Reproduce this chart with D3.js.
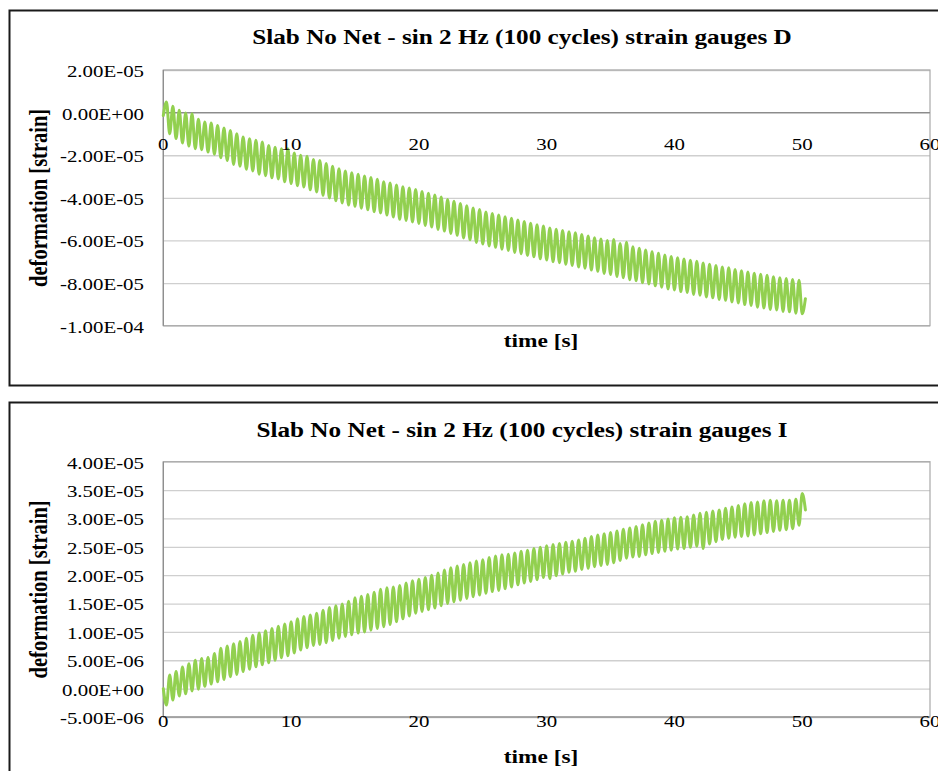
<!DOCTYPE html>
<html>
<head>
<meta charset="utf-8">
<script src="https://cdn.jsdelivr.net/npm/d3@7"></script>
<style>
  body { margin: 0; background: #fff; }
  svg { display: block; }
</style>
</head>
<body>
<svg id="chart" width="938" height="771"></svg>
<script>
// ---- data -------------------------------------------------------------
// Time axis (s)
const timeTicks = [0, 10, 20, 30, 40, 50, 60];

// Gauge D, strain in units of 1e-5. Excitation at 2 Hz: one peak and one trough per 0.5 s.
const startD = -0.14;           // value at t = 0 s
const endD = -8.73;             // value at t = 50.25 s
// peaks at t = 0.25, 0.75, ... 49.75 s
const peaksD = [
   0.50,  0.30,  0.11, -0.02, -0.05, -0.31, -0.44, -0.49, -0.60, -0.72,
  -0.84, -0.99, -1.14, -1.23, -1.30, -1.38, -1.54, -1.62, -1.69, -1.70,
  -1.90, -2.00, -2.05, -2.20, -2.25, -2.39, -2.52, -2.64, -2.74, -2.82,
  -2.89, -2.97, -3.05, -3.13, -3.25, -3.30, -3.40, -3.48, -3.54, -3.61,
  -3.70, -3.78, -3.87, -3.96, -4.08, -4.16, -4.27, -4.37, -4.48, -4.55,
  -4.66, -4.74, -4.81, -4.89, -4.96, -5.04, -5.11, -5.19, -5.26, -5.32,
  -5.41, -5.47, -5.53, -5.59, -5.64, -5.72, -5.79, -5.87, -5.93, -6.00,
  -5.96, -6.14, -6.08, -6.30, -6.36, -6.45, -6.53, -6.60, -6.68, -6.75,
  -6.81, -6.87, -6.93, -6.98, -7.06, -7.12, -7.18, -7.24, -7.28, -7.36,
  -7.42, -7.48, -7.54, -7.59, -7.63, -7.70, -7.75, -7.79, -7.83, -7.87
];
// troughs at t = 0.5, 1.0, ... 50.0 s
const troughsD = [
  -0.99, -1.22, -1.43, -1.57, -1.69, -1.74, -1.85, -1.95, -2.12, -2.25,
  -2.43, -2.52, -2.66, -2.74, -2.89, -2.96, -3.06, -3.11, -3.25, -3.33,
  -3.43, -3.49, -3.62, -3.72, -3.88, -4.01, -4.14, -4.24, -4.34, -4.40,
  -4.49, -4.56, -4.65, -4.71, -4.81, -4.90, -5.01, -5.06, -5.13, -5.20,
  -5.30, -5.37, -5.48, -5.56, -5.67, -5.76, -5.88, -5.97, -6.10, -6.17,
  -6.26, -6.32, -6.41, -6.47, -6.56, -6.62, -6.71, -6.77, -6.86, -6.92,
  -7.00, -7.04, -7.12, -7.17, -7.25, -7.30, -7.39, -7.45, -7.55, -7.60,
  -7.69, -7.75, -7.84, -7.89, -7.98, -8.04, -8.13, -8.19, -8.28, -8.32,
  -8.40, -8.44, -8.53, -8.57, -8.65, -8.69, -8.77, -8.81, -8.89, -8.93,
  -9.01, -9.05, -9.13, -9.17, -9.24, -9.26, -9.33, -9.35, -9.41, -9.44
];
const yTicksD = [2e-5, 0, -2e-5, -4e-5, -6e-5, -8e-5, -1e-4];

// Gauge I, strain in units of 1e-6 (opposite phase to gauge D).
const startI = 0.0;             // value at t = 0 s
const endI = 31.5;              // value at t = 50.25 s
// troughs at t = 0.25, 0.75, ... 49.75 s
const troughsI = [
  -2.9, -2.0, -1.3, -0.9, -0.4, -0.1,  0.4,  0.8,  1.2,  1.6,
   2.1,  2.5,  3.0,  3.4, 3.85,  4.2, 4.55,  5.0, 5.45,  5.8,
   6.3,  6.8,  7.2,  7.6,  7.8,  8.1,  8.5,  8.9,  9.2,  9.5,
   9.8, 10.0, 10.3, 10.6, 10.9, 11.3, 11.8, 12.3, 12.8, 13.3,
  13.6, 13.9, 14.2, 14.6, 15.0, 15.3, 15.6, 15.9, 16.2, 16.5,
  16.8, 17.1, 17.3, 17.6, 17.9, 18.3, 18.6, 18.9, 19.2, 19.6,
  19.4, 19.9, 20.2, 20.5, 20.7, 21.0, 21.2, 21.5, 21.7, 21.9,
  22.2, 22.6, 23.0, 23.2, 23.3, 23.6, 23.8, 24.0, 24.2, 24.4,
  24.6, 24.7, 24.9, 25.1, 24.7, 25.5, 25.9, 26.3, 26.5, 26.7,
  26.8, 26.9, 27.1, 27.3, 27.5, 27.7, 27.9, 28.0, 28.2, 28.8
];
// peaks at t = 0.5, 1.0, ... 50.0 s
const peaksI = [
   2.4,  3.0,  3.8,  4.4,  5.0,  5.3,  5.5,  6.2,  7.1,  7.5,
   7.9,  8.3,  8.9,  9.4,  9.8, 10.2, 10.6, 11.0, 11.4, 11.8,
  12.3, 12.7, 13.0, 13.3, 13.8, 14.3, 14.6, 14.9, 15.4, 16.0,
  16.3, 16.6, 17.0, 17.5, 17.8, 17.9, 18.2, 18.6, 19.0, 19.3,
  19.6, 20.0, 20.4, 20.9, 21.3, 21.6, 21.9, 22.2, 22.5, 22.7,
  23.1, 23.4, 23.6, 23.7, 23.9, 24.2, 24.4, 24.7, 24.9, 25.2,
  25.4, 25.6, 25.8, 26.0, 26.2, 26.5, 26.8, 27.1, 27.3, 27.5,
  27.8, 28.1, 28.3, 28.6, 28.9, 29.2, 29.5, 29.7, 29.9, 30.1,
  30.2, 30.3, 30.6, 30.9, 31.1, 31.3, 31.5, 31.8, 32.0, 32.3,
  32.6, 32.8, 32.9, 33.1, 33.2, 33.1, 33.2, 33.2, 33.4, 34.4
];
const yTicksI = [4e-5, 3.5e-5, 3e-5, 2.5e-5, 2e-5, 1.5e-5, 1e-5, 5e-6, 0, -5e-6];

// ---- series assembly ----------------------------------------------------
// Interleave the half-cycle extremes: first extreme at 0.25 s, second at 0.5 s, period 0.5 s.
function buildSeries(start, first, second, end, unit) {
  const pts = [[0, start * unit]];
  for (let k = 0; k < first.length; k++) {
    pts.push([0.25 + 0.5 * k, first[k] * unit]);
    pts.push([0.5 + 0.5 * k, second[k] * unit]);
  }
  pts.push([50.25, end * unit]);
  return pts;
}
const seriesD = buildSeries(startD, peaksD, troughsD, endD, 1e-5);
const seriesI = buildSeries(startI, troughsI, peaksI, endI, 1e-6);

// Excel-style scientific label: 2.00E-05
function sci(v) {
  const [m, e] = v.toExponential(2).split('e');
  const n = +e;
  return m.toUpperCase() + 'E' + (n < 0 ? '-' : '+') + String(Math.abs(n)).padStart(2, '0');
}

// ---- drawing ------------------------------------------------------------
const svg = d3.select('#chart');
const SERIF = '"Liberation Serif", "Times New Roman", serif';
const STRETCH = 1.2;    // glyphs are drawn slightly wide

function label(parent, x, y, str, opts) {
  const g = parent.append('g')
    .attr('transform', `translate(${x},${y}) scale(${STRETCH},1)` + (opts.rotate ? ` rotate(${opts.rotate})` : ''));
  g.append('text')
    .attr('text-anchor', opts.anchor || 'middle')
    .attr('dominant-baseline', 'central')
    .attr('font-family', SERIF)
    .attr('font-size', opts.size)
    .attr('font-weight', opts.bold ? 'bold' : 'normal')
    .attr('fill', '#000')
    .text(str);
}

const panels = [
  {
    title: 'Slab No Net - sin 2 Hz (100 cycles) strain gauges D',
    series: seriesD, ticks: yTicksD, domain: [-1e-4, 2e-5],
    frameTop: 10, frameBottom: 385,
    top: 70, bottom: 325.7,
    axisAtZero: true, tickLabelY: 144,
    titleY: 37, xTitleY: 341
  },
  {
    title: 'Slab No Net - sin 2 Hz (100 cycles) strain gauges I',
    series: seriesI, ticks: yTicksI, domain: [-5e-6, 4e-5],
    frameTop: 402, frameBottom: 790,
    top: 461.7, bottom: 717,
    axisAtZero: false, tickLabelY: 721,
    titleY: 430, xTitleY: 757
  }
];

const left = 163.3, right = 930;

panels.forEach(p => {
  const g = svg.append('g');
  // outer chart frame
  g.append('rect')
    .attr('x', 9.5).attr('y', p.frameTop + 0.5)
    .attr('width', 960).attr('height', p.frameBottom - p.frameTop)
    .attr('fill', '#fff').attr('stroke', '#1a1a1a').attr('stroke-width', 2);

  const x = d3.scaleLinear().domain([0, 60]).range([left, right]);
  const y = d3.scaleLinear().domain(p.domain).range([p.bottom, p.top]);

  // horizontal gridlines
  g.append('g')
    .call(d3.axisLeft(y).tickValues(p.ticks).tickSize(-(right - left)).tickFormat(''))
    .attr('transform', `translate(${left},0)`)
    .call(a => a.select('.domain').remove())
    .call(a => a.selectAll('.tick line').attr('stroke', '#CFCFCF').attr('stroke-width', 1.3));

  // plot area border
  g.append('rect')
    .attr('x', left).attr('y', p.top)
    .attr('width', right - left).attr('height', p.bottom - p.top)
    .attr('fill', 'none').attr('stroke', '#A8A8A8').attr('stroke-width', 1.2);

  // axis lines
  const xAxisY = p.axisAtZero ? y(0) : p.bottom;
  g.append('line').attr('x1', left).attr('x2', right).attr('y1', xAxisY).attr('y2', xAxisY)
    .attr('stroke', '#8C8C8C').attr('stroke-width', 1.2);
  g.append('line').attr('x1', left).attr('x2', left).attr('y1', p.top).attr('y2', p.bottom)
    .attr('stroke', '#8C8C8C').attr('stroke-width', 1.2);

  // series line
  const line = d3.line().x(d => x(d[0])).y(d => y(d[1])).curve(d3.curveMonotoneX);
  g.append('path').datum(p.series)
    .attr('d', line)
    .attr('fill', 'none').attr('stroke', '#92D050')
    .attr('stroke-width', 3).attr('stroke-linejoin', 'round').attr('stroke-linecap', 'round');

  // tick labels
  p.ticks.forEach(v => label(g, 144, y(v) + 1, sci(v), { anchor: 'end', size: 17.4 }));
  timeTicks.forEach(t => label(g, x(t), p.tickLabelY, String(t), { anchor: 'middle', size: 17.4 }));

  // titles
  label(g, 522, p.titleY, p.title, { bold: true, size: 21 });
  label(g, 541, p.xTitleY, 'time [s]', { bold: true, size: 19.5 });
  label(g, 39, (p.top + p.bottom) / 2, 'deformation [strain]', { bold: true, size: 20.5, rotate: -90 });
});
</script>
</body>
</html>
